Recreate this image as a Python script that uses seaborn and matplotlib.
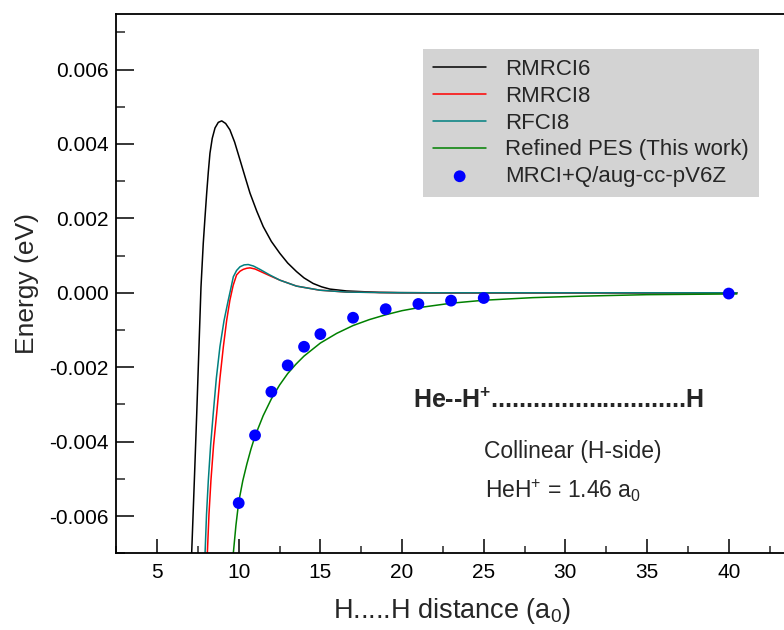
import numpy as np
import pandas as pd
import matplotlib
matplotlib.use("Agg")
import matplotlib.pyplot as plt
from matplotlib.ticker import MultipleLocator, FormatStrFormatter
import seaborn as sns

# H.....H distance (bohr) and energy (meV) along each curve
r_rmrci6 = [7.12, 7.30, 7.43, 7.56, 7.69, 7.83, 7.94, 8.04, 8.14, 8.24, 8.38, 8.55,
            8.75, 8.96, 9.20, 9.46, 9.75, 10.08, 10.40, 10.69, 11.10, 11.50, 12.00,
            12.52, 13.00, 13.54, 14.00, 14.56, 15.08, 15.58, 16.60, 18.60, 22.0, 30.0, 40.5]
e_rmrci6 = [-7.0, -4.85, -3.25, -1.55, 0.15, 1.33, 2.05, 2.68, 3.25, 3.75, 4.15, 4.43,
            4.58, 4.62, 4.55, 4.38, 4.05, 3.57, 3.10, 2.68, 2.20, 1.78, 1.38,
            1.06, 0.80, 0.57, 0.40, 0.25, 0.16, 0.10, 0.05, 0.01, 0.0, 0.0, 0.0]

r_rmrci8 = [8.08, 8.18, 8.30, 8.46, 8.65, 8.85, 9.06, 9.26, 9.46, 9.66, 9.87, 10.08,
            10.28, 10.50, 10.69, 11.00, 11.30, 11.90, 12.52, 13.54, 14.97, 16.60, 20.0, 30.0, 40.5]
e_rmrci8 = [-7.0, -5.95, -5.04, -4.10, -3.25, -2.30, -1.45, -0.75, -0.20, 0.20, 0.48, 0.58,
            0.63, 0.66, 0.67, 0.64, 0.58, 0.46, 0.34, 0.18, 0.07, 0.02, 0.0, 0.0, 0.0]

r_rfci8 = [7.94, 8.03, 8.14, 8.28, 8.44, 8.63, 8.85, 9.10, 9.36, 9.52, 9.67, 9.87,
           10.08, 10.33, 10.58, 10.90, 11.30, 11.90, 12.52, 13.54, 14.97, 16.60, 20.0, 30.0, 40.5]
e_rfci8 = [-7.0, -5.95, -5.04, -4.10, -3.25, -2.30, -1.45, -0.75, -0.20, 0.12, 0.43, 0.60,
           0.70, 0.75, 0.76, 0.72, 0.63, 0.48, 0.34, 0.18, 0.07, 0.02, 0.0, 0.0, 0.0]

r_refined = [9.67, 9.83, 10.0, 10.25, 10.5, 10.75, 11.0, 11.5, 12.0, 12.5, 13.0, 13.5,
             14.0, 15.0, 16.0, 17.0, 18.0, 19.0, 20.0, 21.0, 23.0, 25.0, 28.0, 31.0, 35.0, 40.5]
e_refined = [-7.0, -6.25, -5.62, -5.05, -4.60, -4.20, -3.85, -3.30, -2.85, -2.48, -2.17, -1.92,
             -1.70, -1.35, -1.09, -0.88, -0.72, -0.59, -0.48, -0.40, -0.28, -0.20, -0.13, -0.09, -0.05, -0.03]

# ab initio points
r_mrci = [10, 11, 12, 13, 14, 15, 17, 19, 21, 23, 25, 40]
e_mrci = [-5.65, -3.83, -2.66, -1.95, -1.45, -1.11, -0.67, -0.44, -0.30, -0.21, -0.14, -0.02]

curve_names = ["RMRCI6", "RMRCI8", "RFCI8", "Refined PES (This work)"]
curve_colors = ["#000000", "#ff0000", "#008080", "#008000"]
points_name = "MRCI+Q/aug-cc-pV6Z"

sns.set_style("ticks")
plt.rcParams["font.family"] = ["Liberation Sans", "DejaVu Sans"]
plt.rcParams["mathtext.fontset"] = "custom"
plt.rcParams["mathtext.rm"] = "Liberation Sans"
plt.rcParams["mathtext.it"] = "Liberation Sans:italic"
plt.rcParams["mathtext.bf"] = "Liberation Sans:bold"
plt.rcParams["mathtext.default"] = "regular"
plt.rcParams["axes.unicode_minus"] = False

fig = plt.figure(figsize=(7.84, 6.30), dpi=100)
W, H = 784, 630
x_lo, x_hi = 2.5, 44.9
px_per_unit = 16.334
ax = fig.add_axes([116.2 / W, (H - 553.3) / H, (x_hi - x_lo) * px_per_unit / W, (553.3 - 13.7) / H])

meV = 1e-3
curves = [(r_rmrci6, e_rmrci6), (r_rmrci8, e_rmrci8), (r_rfci8, e_rfci8), (r_refined, e_refined)]
for (r, e), name, col in zip(curves, curve_names, curve_colors):
    df = pd.DataFrame({"r": r, "E": np.asarray(e) * meV})
    sns.lineplot(data=df, x="r", y="E", color=col, linewidth=1.1, label=name,
                 ax=ax, sort=False, estimator=None)

pts = pd.DataFrame({"r": r_mrci, "E": np.asarray(e_mrci) * meV})
sns.scatterplot(data=pts, x="r", y="E", color="#0000ff", s=72, edgecolor="none",
                label=points_name, ax=ax, zorder=5)

ax.set_xlim(x_lo, x_hi)
ax.set_ylim(-0.007, 0.0075)

ax.xaxis.set_major_locator(MultipleLocator(5))
ax.xaxis.set_minor_locator(MultipleLocator(2.5))
ax.yaxis.set_major_locator(MultipleLocator(0.002))
ax.yaxis.set_minor_locator(MultipleLocator(0.001))
ax.yaxis.set_major_formatter(FormatStrFormatter("%.3f"))

ax.tick_params(axis="y", which="major", direction="in", length=13, width=1.1, labelsize=15, pad=5.5)
ax.tick_params(axis="y", which="minor", direction="in", length=6.5, width=1.1)
ax.tick_params(axis="x", which="major", direction="in", length=10, width=1.1, labelsize=15, pad=7)
ax.tick_params(axis="x", which="minor", direction="in", length=5, width=1.1)
ax.tick_params(colors="black")

for side in ["left", "bottom", "top"]:
    ax.spines[side].set_visible(True)
    ax.spines[side].set_linewidth(1.3)
    ax.spines[side].set_color("black")
ax.spines["right"].set_visible(False)

ax.set_xlabel("H.....H distance (a$_0$)", fontsize=19.5, labelpad=9)
ax.xaxis.set_label_coords(0.485, -0.08)
ax.set_ylabel("Energy (eV)", fontsize=19, labelpad=7)

ax.text(20.67, -0.00310, r"He--H$^{\mathbf{+}}$" + "." * 28 + "H",
        fontsize=18, fontweight="bold", ha="left", va="baseline")
ax.text(25.02, -0.00443, "Collinear (H-side)", fontsize=16.5, ha="left", va="baseline")
ax.text(25.1, -0.00553, "HeH$^{+}$ = 1.46 a$_{0}$", fontsize=16.5, ha="left", va="baseline")

leg = ax.legend(loc="upper left", bbox_to_anchor=(0.443, 0.9346), borderaxespad=0,
                frameon=True, fancybox=False, framealpha=1, facecolor="#d3d3d3",
                edgecolor="#d3d3d3", fontsize=16, handlelength=2.4, handletextpad=0.85,
                borderpad=0.45, labelspacing=0.26, scatterpoints=1)
leg.get_frame().set_linewidth(0)

fig.savefig("out.png", dpi=100)
